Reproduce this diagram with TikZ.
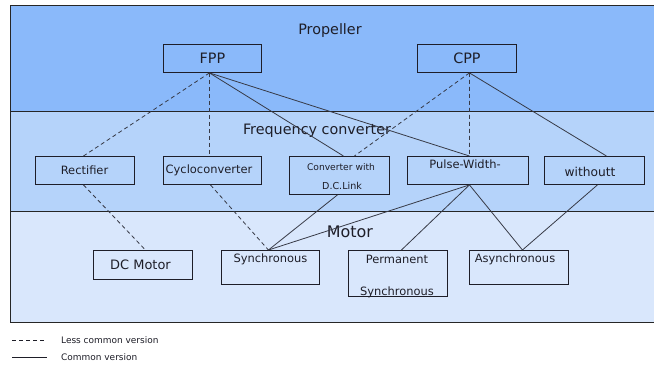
\documentclass[tikz,border=0pt]{standalone}
\usepackage{fontspec}
\setmainfont{DejaVu Sans}
\usetikzlibrary{calc}
\definecolor{bandA}{RGB}{138,185,250}
\definecolor{bandB}{RGB}{181,211,250}
\definecolor{bandC}{RGB}{217,231,252}
\definecolor{ink}{RGB}{30,30,40}
\definecolor{wire}{RGB}{55,58,70}
\begin{document}
\begin{tikzpicture}[x=1bp,y=-1bp,
  band/.style={draw=black!85,line width=0.9bp},
  box/.style={draw=ink,line width=0.9bp,anchor=north west,inner sep=0pt},
  title/.style={text=ink,inner sep=0pt,font=\fontsize{14.4}{16}\selectfont},
  lbl/.style={text=ink,inner sep=0pt,font=\fontsize{11.5}{13}\selectfont},
  small/.style={text=ink,inner sep=0pt,font=\fontsize{9.2}{11}\selectfont},
  legend/.style={text=ink,inner sep=0pt,anchor=west,font=\fontsize{9}{11}\selectfont},
  common/.style={draw=wire,line width=0.8bp},
  rare/.style={draw=wire,line width=0.8bp,dash pattern=on 4bp off 3bp}]
\clip (0,0) rectangle (654,365);
\fill[white] (0,0) rectangle (654,365);

% three layers
\draw[band,fill=bandA] (10,5.5) rectangle (660,111);
\draw[band,fill=bandB] (10,111) rectangle (660,211);
\draw[band,fill=bandC] (10,211) rectangle (660,322.5);

\node[title] (tprop) at (330,31) {Propeller};
\node[title] (tconv) at (317,131) {Frequency converter};
\node[title,font=\fontsize{16}{18}\selectfont] (tmot) at (350,232) {Motor};

% propeller boxes
\node[box,minimum width=98bp,minimum height=28bp] (fpp) at (163,44) {};
\node[box,minimum width=99bp,minimum height=28bp] (cpp) at (417,44) {};
\node[title] (tfpp) at (fpp.center) {FPP};
\node[title] (tcpp) at (cpp.center) {CPP};

% converter boxes
\node[box,minimum width=99bp,minimum height=28bp] (rect) at (35,156) {};
\node[box,minimum width=98bp,minimum height=28bp] (cyc) at (163,156) {};
\node[box,minimum width=100bp,minimum height=38bp] (dcl) at (289,156) {};
\node[box,minimum width=121bp,minimum height=28bp] (pwm) at (407,156) {};
\node[box,minimum width=100bp,minimum height=28bp] (wo) at (544,156) {};
\node[lbl] (trect) at (84.5,170) {Rectifier};
\node[lbl] (tcyc) at (209,170) {Cycloconverter};
\node[small] (tdcl1) at (341,167) {Converter with};
\node[small,font=\fontsize{9.6}{11}\selectfont] (tdcl2) at (342,186) {D.C.Link};
\node[lbl] (tpwm) at (465,164) {Pulse-Width-};
\node[lbl,font=\fontsize{12.3}{14}\selectfont] (two) at (590,172) {withoutt};

% motor boxes
\node[box,minimum width=99bp,minimum height=29bp] (dcm) at (93,250) {};
\node[box,minimum width=98bp,minimum height=34bp] (syn) at (221,250) {};
\node[box,minimum width=99bp,minimum height=46bp] (pms) at (348,250) {};
\node[box,minimum width=99bp,minimum height=34bp] (asy) at (469,250) {};
\node[lbl,font=\fontsize{13}{15}\selectfont] (tdcm) at (140.5,264.5) {DC Motor};
\node[lbl] (tsyn) at (270.5,259) {Synchronous};
\node[lbl] (tpms1) at (397,259) {Permanent};
\node[lbl] (tpms2) at (397,292) {Synchronous};
\node[lbl] (tasy) at (515,259) {Asynchronous};

% propeller to converter
\draw[rare] ([xshift=-3bp]fpp.south) -- ([xshift=-1.5bp]rect.north);
\draw[rare] ([xshift=-3bp]fpp.south) -- ([xshift=-3bp]cyc.north);
\draw[common] ([xshift=-3bp]fpp.south) -- ([xshift=4bp]dcl.north);
\draw[common] ([xshift=-3bp]fpp.south) -- ([xshift=1.5bp]pwm.north);
\draw[rare] ([xshift=2.5bp]cpp.south) -- ([xshift=15bp]dcl.north);
\draw[rare] ([xshift=2.5bp]cpp.south) -- ([xshift=1.5bp]pwm.north);
\draw[common] ([xshift=2.5bp]cpp.south) -- ([xshift=12bp]wo.north);

% converter to motor
\draw[rare] ([xshift=-1.5bp]rect.south) -- ([xshift=2.5bp]dcm.north);
\draw[rare] ([xshift=-2bp]cyc.south) -- ([xshift=-2bp]syn.north);
\draw[common] ([xshift=-2bp]dcl.south) -- ([xshift=-2bp]syn.north);
\draw[common] ([xshift=1.5bp]pwm.south) -- ([xshift=-2bp]syn.north);
\draw[common] ([xshift=1.5bp]pwm.south) -- ([xshift=3.5bp]pms.north);
\draw[common] ([xshift=1.5bp]pwm.south) -- ([xshift=3.5bp]asy.north);
\draw[common] ([xshift=3bp]wo.south) -- ([xshift=3.5bp]asy.north);

% legend
\coordinate (la) at (12,340);
\coordinate (lb) at (47,340);
\coordinate (lc) at (12,357);
\coordinate (ld) at (47,357);
\draw[rare,draw=ink] (la) -- (lb);
\draw[common,draw=ink] (lc) -- (ld);
\node[legend] (lrare) at (61,340) {Less common version};
\node[legend] (lcommon) at (61,357) {Common version};
\end{tikzpicture}
\end{document}
